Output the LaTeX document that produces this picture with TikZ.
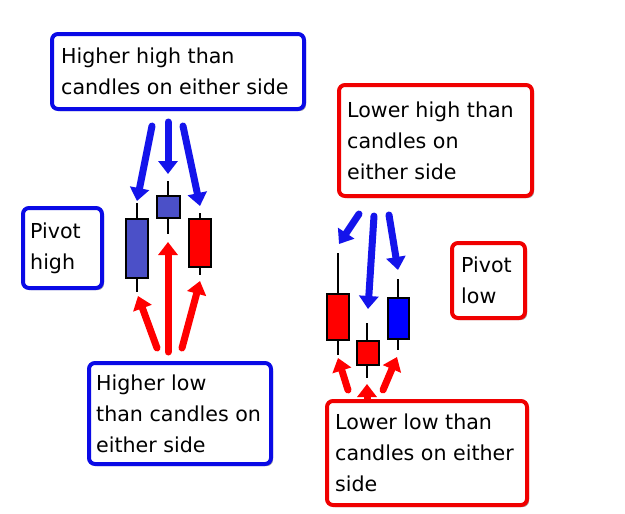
\documentclass[tikz,border=0pt]{standalone}
\usepackage{fontspec}
\setmainfont{DejaVu Sans}
\usetikzlibrary{arrows.meta,shadows}
\definecolor{bxblue}{RGB}{10,10,230}
\definecolor{bxred}{RGB}{240,0,0}
\definecolor{cblue}{RGB}{75,80,200}
\definecolor{cbluetwo}{RGB}{0,0,255}
\definecolor{cred}{RGB}{255,0,0}
\definecolor{arblue}{RGB}{20,20,235}
\definecolor{arred}{RGB}{255,0,0}
\begin{document}
\begin{tikzpicture}[x=1pt,y=-1pt,
  bx/.style={draw, line width=4pt, rounded corners=6pt, fill=white,
    drop shadow={shadow xshift=2pt,shadow yshift=-2pt,opacity=0.35,fill=black},
    inner sep=0pt},
  bblue/.style={bx, draw=bxblue},
  bred/.style={bx, draw=bxred},
  txt/.style={anchor=west, align=left, inner sep=0pt, font=\fontsize{20.6}{31}\selectfont},
  arr/.style={line width=7pt, line cap=round, -{Triangle[width=19pt,length=13pt]}},
  wick/.style={line width=2pt, draw=black},
  body/.style={draw=black, line width=2.5pt}]
\useasboundingbox[fill=white] (0,0) rectangle (625,514);

% candles left
\draw[wick] (137,203) -- (137,292);
\draw[body, fill=cblue] (126,219) rectangle (148,278);
\draw[wick] (168,181) -- (168,234);
\draw[body, fill=cblue] (157,196) rectangle (180,218);
\draw[wick] (200,213) -- (200,275);
\draw[body, fill=cred] (189,219) rectangle (211,267);

% candles right
\draw[wick] (338,253) -- (338,355);
\draw[body, fill=cred] (327,294) rectangle (349,340);
\draw[wick] (367,323) -- (367,378);
\draw[body, fill=cred] (357,341) rectangle (379,365);
\draw[wick] (398,279) -- (398,350);
\draw[body, fill=cbluetwo] (388,298) rectangle (409,339);

% arrow end points
\coordinate (a1s) at (152,126); \coordinate (a1e) at (137,201);
\coordinate (a2s) at (168,122); \coordinate (a2e) at (168,174);
\coordinate (a3s) at (183,126); \coordinate (a3e) at (200,206);
\coordinate (r1s) at (157,348); \coordinate (r1e) at (138,296);
\coordinate (r2s) at (168,352); \coordinate (r2e) at (168,242);
\coordinate (r3s) at (182,348); \coordinate (r3e) at (200,281);
\coordinate (b1s) at (359,214); \coordinate (b1e) at (339,244);
\coordinate (b2s) at (374,216); \coordinate (b2e) at (368,309);
\coordinate (b3s) at (389,215); \coordinate (b3e) at (398,270);
\coordinate (s1s) at (348,390); \coordinate (s1e) at (338,358);
\coordinate (s2s) at (367,410); \coordinate (s2e) at (367,384);
\coordinate (s3s) at (383,390); \coordinate (s3e) at (397,357);

\draw[arr, arblue] (a1s) -- (a1e);
\draw[arr, arblue] (a2s) -- (a2e);
\draw[arr, arblue] (a3s) -- (a3e);
\draw[arr, arred] (r1s) -- (r1e);
\draw[arr, arred] (r2s) -- (r2e);
\draw[arr, arred] (r3s) -- (r3e);
\draw[arr, arblue] (b1s) -- (b1e);
\draw[arr, arblue] (b2s) -- (b2e);
\draw[arr, arblue] (b3s) -- (b3e);
\draw[arr, arred] (s1s) -- (s1e);
\draw[arr, arred] (s2s) -- (s2e);
\draw[arr, arred] (s3s) -- (s3e);

% boxes
\node[bblue, minimum width=252pt, minimum height=75pt] (hh) at (178,71.5) {};
\node[txt] (hht) at ([xshift=11pt]hh.west) {Higher high than\\candles on either side};

\node[bblue, minimum width=79pt, minimum height=80pt] (ph) at (62.5,248) {};
\node[txt] (pht) at ([xshift=9pt]ph.west) {Pivot\\high};

\node[bblue, minimum width=182pt, minimum height=101pt] (hl) at (180,413.5) {};
\node[txt] (hlt) at ([xshift=9pt]hl.west) {Higher low\\than candles on\\either side};

\node[bred, minimum width=193pt, minimum height=111pt] (lh) at (435.5,140.5) {};
\node[txt] (lht) at ([xshift=10pt]lh.west) {Lower high than\\candles on\\either side};

\node[bred, minimum width=73pt, minimum height=75pt] (pl) at (488.5,280.5) {};
\node[txt] (plt) at ([xshift=11pt]pl.west) {Pivot\\low};

\node[bred, minimum width=200pt, minimum height=104pt] (ll) at (427,453) {};
\node[txt] (llt) at ([xshift=10pt]ll.west) {Lower low than\\candles on either\\side};
\end{tikzpicture}
\end{document}
